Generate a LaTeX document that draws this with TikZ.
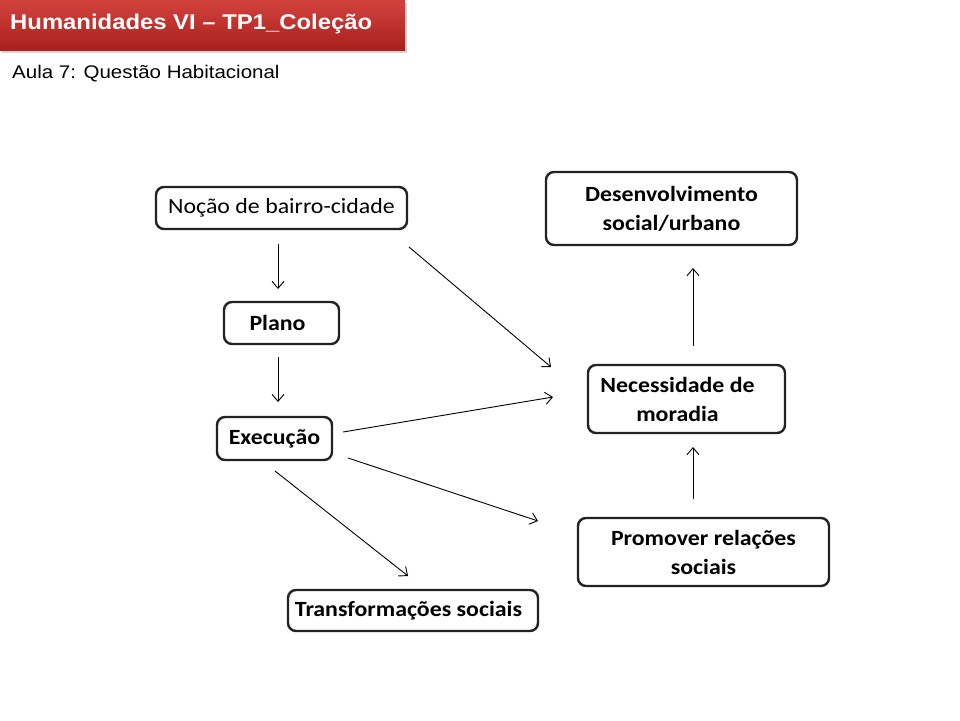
\documentclass[tikz,border=0pt]{standalone}
\usepackage{fontspec}
\setmainfont{Carlito}[FakeStretch=1.1]
\newfontfamily\titlefont{Liberation Sans}[FakeStretch=1.12]
\newfontfamily\subfont{Liberation Sans}[FakeStretch=1.12]
\usetikzlibrary{arrows.meta,shadows}
\definecolor{bannertop}{HTML}{D2423D}
\definecolor{bannerbot}{HTML}{A9201C}
\definecolor{boxline}{HTML}{222222}
\tikzset{
  box/.style={draw=boxline, line width=2.4pt, rounded corners=8pt, align=center,
    inner sep=0pt, font=\fontsize{21.7}{29}\selectfont\bfseries},
  plainbox/.style={box, font=\fontsize{21.7}{29}\selectfont},
  conn/.style={line width=0.9pt, -{Straight Barb[length=7pt,width=12pt]}},
}
\begin{document}
\begin{tikzpicture}[x=1pt,y=-1pt]
\useasboundingbox (0,0) rectangle (960,720);
\fill[white] (0,0) rectangle (960,720);
% banner
\node[anchor=north west, minimum width=405pt, minimum height=50pt, inner sep=0pt,
  top color=bannertop, bottom color=bannerbot, draw=none,
  drop shadow={opacity=0.35, shadow xshift=1.5pt, shadow yshift=-2.5pt}] (banner) at (0,0) {};
\node[anchor=base west, inner sep=0pt, text=white, font=\titlefont\fontsize{21.3}{25}\selectfont\bfseries]
  (title) at (10,29.5) {Humanidades VI – TP1\_Coleção};
\node[anchor=base west, inner sep=0pt, font=\subfont\fontsize{18.3}{22}\selectfont]
  (subtitle) at (12,78) {Aula 7: Questão Habitacional};
% nodes
\node[plainbox, minimum width=251pt, minimum height=42pt] (noc) at (281.5,208) {Noção de bairro-cidade};
\node[box, minimum width=115pt, minimum height=42pt] (plano) at (281.5,323) {Plano\hspace*{8pt}};
\node[box, minimum width=115pt, minimum height=43pt] (exec) at (274.5,438.5) {Execução};
\node[box, minimum width=250pt, minimum height=41pt] (transf) at (413,610.5) {Transformações sociais\hspace*{9pt}};
\node[box, minimum width=251pt, minimum height=73pt] (desenv) at (671.5,208.5) {Desenvolvimento\\social/urbano};
\node[box, minimum width=197pt, minimum height=68pt] (neces) at (686.5,399) {Necessidade de\hspace*{18pt}\\moradia\hspace*{18pt}};
\node[box, minimum width=251pt, minimum height=68pt] (prom) at (703.5,552) {Promover relações\\sociais};
% connector end points
\coordinate (a1) at (278,244); \coordinate (a2) at (278,289);
\coordinate (b1) at (278,357); \coordinate (b2) at (278,402);
\coordinate (c1) at (409,247); \coordinate (c2) at (551,367);
\coordinate (d1) at (343,432); \coordinate (d2) at (553,397);
\coordinate (e1) at (348,458); \coordinate (e2) at (538,521);
\coordinate (f1) at (275,471); \coordinate (f2) at (408,576);
\coordinate (g1) at (693,499); \coordinate (g2) at (693,447);
\coordinate (h1) at (693,346); \coordinate (h2) at (693,268);
\draw[conn] (a1) -- (a2);
\draw[conn] (b1) -- (b2);
\draw[conn] (c1) -- (c2);
\draw[conn] (d1) -- (d2);
\draw[conn] (e1) -- (e2);
\draw[conn] (f1) -- (f2);
\draw[conn] (g1) -- (g2);
\draw[conn] (h1) -- (h2);
\end{tikzpicture}
\end{document}
